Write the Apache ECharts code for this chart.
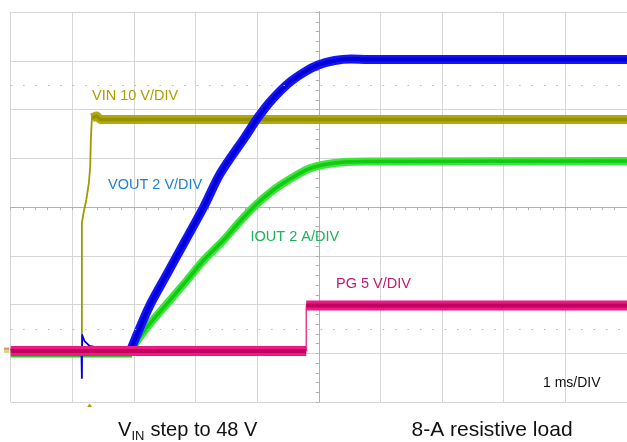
<!DOCTYPE html>
<html><head><meta charset="utf-8">
<script src="https://cdn.jsdelivr.net/npm/echarts@6/dist/echarts.min.js"></script>
<style>html,body{margin:0;padding:0;background:#fff}#c{width:627px;height:442px}</style>
</head><body><div id="c"></div>
<script>
// Oscilloscope screen: x in ms (1 ms/DIV, 0 = screen centre), y in divisions (0 = screen centre)
// VIN 10 V/DIV
const vinEdgeT = [-5.0, -3.845, -3.845, -3.818, -3.774, -3.732, -3.710, -3.700, -3.684, -3.673];
const vinEdgeV = [-2.933, -2.933, -0.328, -0.123, 0.144, 0.492, 0.821, 1.374, 1.785, 1.887];
const vinT = [-3.681, -3.608, -3.544, -3.2, -2.5, -1.0, 1.0, 3.0, 5.0];
const vinV = [1.826, 1.867, 1.795, 1.795, 1.795, 1.795, 1.795, 1.795, 1.795];
// VOUT 2 V/DIV
const voutPreT = [-5.0, -3.853, -3.845, -3.840, -3.802, -3.721, -3.56, -3.039];
const voutPreV = [-2.913, -2.913, -3.508, -2.626, -2.749, -2.851, -2.892, -2.892];
const voutT = [-3.039, -2.753, -2.458, -2.161, -1.866, -1.597, -1.194, -0.979, -0.765, -0.495, -0.226, -0.011, 0.258, 0.521, 0.795, 5.0];
const voutV = [-2.892, -2.045, -1.360, -0.677, 0.006, 0.691, 1.442, 1.852, 2.195, 2.537, 2.775, 2.913, 3.005, 3.036, 3.026, 3.026];
// IOUT 2 A/DIV
const ioutPreT = [-5.0, -3.03];
const ioutPreV = [-3.067, -3.067];
const ioutT = [-3.027, -2.781, -2.458, -2.135, -1.866, -1.544, -1.274, -1.006, -0.737, -0.495, -0.173, 0.097, 0.419, 0.795, 5.0];
const ioutV = [-2.892, -2.455, -1.975, -1.497, -1.087, -0.677, -0.287, 0.062, 0.349, 0.554, 0.779, 0.872, 0.923, 0.933, 0.944];
// PG 5 V/DIV
const pgLowT = [-5.0, -0.205];
const pgLowV = [-2.954, -2.954];
const pgHighT = [-0.205, 5.0];
const pgHighV = [-2.021, -2.021];
// reference dotted lines, trigger position, ground level
const dottedLevels = [2.5, -2.5];
const triggerT = -3.72;
const groundV = -2.933;
// texts
const channelLabels = ['VIN 10 V/DIV', 'VOUT 2 V/DIV', 'IOUT 2 A/DIV', 'PG 5 V/DIV'];
const timebaseLabel = '1 ms/DIV';
const captionLeft = ['V', 'IN', ' step to 48 V'];
const captionRight = '8-A resistive load';

const zip = (t, v) => t.map((x, i) => [x, v[i]]);
function layer(data, color, width, smooth) {
  return {type: 'line', data, showSymbol: false, symbol: 'none', silent: true, animation: false,
    smooth: smooth || false,
    lineStyle: {color, width, join: 'round', cap: 'butt'}};
}
function trace(data, outer, inner, ow, iw, smooth) {
  return [layer(data, outer, ow, smooth), layer(data, inner, iw, smooth)];
}

const gridCol = '#d6d6d6', axisCol = '#b0b0b0';
function xa(inside, split) {
  return {type: 'value', min: -5, max: 5, interval: 1,
    axisLabel: {show: false},
    axisLine: {show: true, onZero: true, lineStyle: {color: axisCol}},
    axisTick: {show: true, inside, length: 3, lineStyle: {color: axisCol}},
    minorTick: {show: true, splitNumber: 5, length: 3, lineStyle: {color: axisCol}},
    splitLine: {show: split, lineStyle: {color: gridCol, width: 1}},
    minorSplitLine: {show: false}};
}
function ya(inside, split) {
  const a = xa(inside, split); a.min = -4; a.max = 4; return a;
}

const series = [];
series.push({type: 'line', data: [], silent: true,
  markLine: {silent: true, symbol: ['none', 'none'], label: {show: false}, animation: false,
    lineStyle: {color: '#b5b5b5', width: 1.2, type: [1.5, 10.9]},
    data: dottedLevels.map(v => ({yAxis: v}))}});
series.push(layer(zip(vinEdgeT, vinEdgeV), '#a09a00', 1.8));
series.push(...trace(zip(vinT, vinV), '#b0aa06', '#979100', 9, 3.5));
series.push(layer(zip(ioutPreT, ioutPreV), '#22cc22', 2));
series.push(...trace(zip(ioutT, ioutV), '#3ae83a', '#14c814', 8, 3.5, 0.3));
series.push(layer(zip(voutPreT, voutPreV), '#0000d8', 1.8));
series.push(...trace(zip(voutT, voutV), '#1414ff', '#0000d4', 9, 4, 0.3));
series.push(...trace(zip(pgLowT, pgLowV), '#ec1a82', '#c4005e', 10, 4));
series.push(layer([[pgLowT[1], pgLowV[1]], [pgHighT[0], pgHighV[0]]], '#e0107a', 1.2));
series.push(...trace(zip(pgHighT, pgHighV), '#ec1a82', '#c4005e', 10, 4));

const chart = echarts.init(document.getElementById('c'), null, {renderer: 'canvas'});
chart.setOption({
  backgroundColor: '#ffffff',
  animation: false,
  grid: {left: 10.7, top: 12, width: 620, height: 390, containLabel: false},
  xAxis: [xa(false, true), xa(true, false)],
  yAxis: [ya(false, true), ya(true, false)],
  series
});

const font = 'Liberation Sans, Arial, sans-serif';
function txt(text, x, y, size, color) {
  return {type: 'text', silent: true, z: 100,
    style: {text, x, y, fill: color, fontSize: size, fontFamily: font, verticalAlign: 'middle', align: 'left'}};
}
const trig = chart.convertToPixel({gridIndex: 0}, [triggerT, groundV]);
const graphic = [
  txt(channelLabels[0], 92, 95.5, 14.5, '#a8a000'),
  txt(channelLabels[1], 108, 185, 14.5, '#1f7fd4'),
  txt(channelLabels[2], 250.5, 236.5, 14.5, '#1db25a'),
  txt(channelLabels[3], 336, 284, 14.5, '#c21a6c'),
  txt(timebaseLabel, 543, 383, 14, '#111111'),
  txt(captionLeft[0], 118, 430, 20, '#111111'),
  txt(captionLeft[1], 131.5, 436.5, 13, '#111111'),
  txt(captionLeft[2], 145, 430, 20, '#111111'),
  txt(captionRight, 411.5, 430, 21, '#111111'),
  {type: 'polygon', silent: true, z: 100,
    shape: {points: [[trig[0] - 2.5, 407], [trig[0] + 2.5, 407], [trig[0], 403.5]]},
    style: {fill: '#b0a400'}},
  {type: 'rect', silent: true, z: 100, shape: {x: 4, y: trig[1] - 2.5, width: 5, height: 3}, style: {fill: '#d8a848'}},
  {type: 'rect', silent: true, z: 100, shape: {x: 4, y: trig[1] + 1.5, width: 5, height: 1}, style: {fill: '#b8a000'}}
];
chart.setOption({graphic});
</script>
</body></html>
